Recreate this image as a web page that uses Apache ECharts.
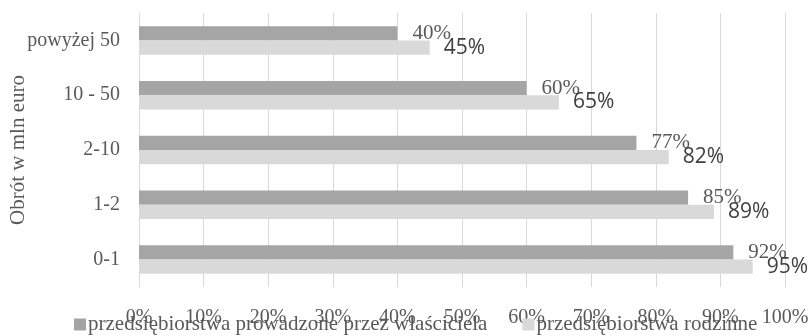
<!DOCTYPE html>
<html>
<head>
<meta charset="utf-8">
<script src="https://cdn.jsdelivr.net/npm/echarts@6/dist/echarts.min.js"></script>
<style>html,body{margin:0;padding:0;background:#fff}#c{width:812px;height:336px}</style>
</head>
<body>
<div id="c"></div>
<script>
var categories = ['0-1', '1-2', '2-10', '10 - 50', 'powyżej 50'];
var ownerManaged = [92, 85, 77, 60, 40];
var familyFirms = [95, 89, 82, 65, 45];
var seriesNames = ['przedsiębiorstwa prowadzone przez właściciela', 'przedsiębiorstwa rodzinne'];
var xTicks = [0, 10, 20, 30, 40, 50, 60, 70, 80, 90, 100];
var axisTitle = 'Obrót w mln euro';

var serif = '"Liberation Serif", "Times New Roman", serif';
var chart = echarts.init(document.getElementById('c'), null, {renderer: 'canvas'});
chart.setOption({
  animation: false,
  grid: {left: 139, right: 27, top: 13, bottom: 49, containLabel: false, outerBoundsMode: 'none'},
  legend: {
    left: 69, top: 309, itemWidth: 12, itemHeight: 12, itemGap: 35,
    icon: 'rect',
    textStyle: {fontFamily: serif, fontSize: 21, color: '#595959', padding: [0, 0, 0, -3]},
    data: seriesNames
  },
  xAxis: {
    type: 'value', min: xTicks[0], max: xTicks[xTicks.length - 1], interval: 10,
    axisLine: {show: false}, axisTick: {show: false},
    splitLine: {show: true, lineStyle: {color: '#d9d9d9', width: 1}},
    axisLabel: {formatter: '{value}%', fontFamily: serif, fontSize: 20, color: '#595959', margin: 21}
  },
  yAxis: {
    type: 'category', data: categories,
    name: axisTitle, nameLocation: 'middle', nameGap: 110, nameRotate: 90,
    nameMoveOverlap: false,
    nameTextStyle: {fontFamily: serif, fontSize: 21, color: '#595959'},
    axisLine: {show: true, lineStyle: {color: '#d9d9d9', width: 1}},
    axisTick: {show: false},
    axisLabel: {fontFamily: serif, fontSize: 20, color: '#595959', margin: 19}
  },
  series: [
    {
      name: seriesNames[0], type: 'bar', data: ownerManaged,
      barGap: '0%', barCategoryGap: '48%',
      itemStyle: {color: '#a5a5a5'},
      label: {show: true, position: 'right', distance: 15, formatter: '{c}%',
        fontFamily: serif, fontSize: 21, color: '#595959'}
    },
    {
      name: seriesNames[1], type: 'bar', data: familyFirms,
      barGap: '0%', barCategoryGap: '48%',
      itemStyle: {color: '#d9d9d9'},
      label: {show: true, position: 'right', distance: 14, formatter: '{c}%',
        fontFamily: '"Open Sans", sans-serif', fontSize: 21, color: '#404040'}
    }
  ]
});
</script>
</body>
</html>
